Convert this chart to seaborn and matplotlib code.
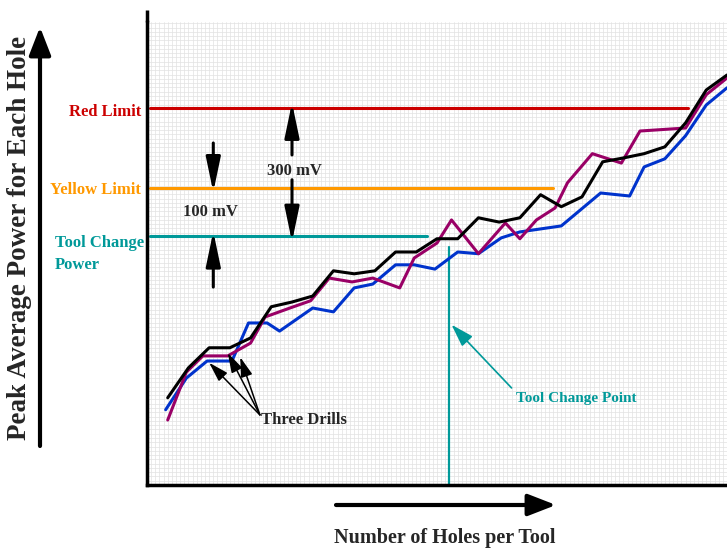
import numpy as np
import pandas as pd
import matplotlib.pyplot as plt
import seaborn as sns
from matplotlib.ticker import MultipleLocator

# Trois forets : puissance moyenne crete (mV) par trou
black_x = list(range(1, 29))
black_y = [204, 274, 321, 321, 344, 417, 428, 442, 501, 494, 501, 545, 545, 576,
           576, 625, 615, 625, 679, 651, 674, 756, 765, 775, 791, 847, 924, 959]

purple_x = [1.0, 1.9, 2.7, 3.9, 5.0, 5.7, 6.9, 7.9, 8.8, 9.9, 10.9, 12.2, 12.9, 14.0,
            14.7, 16.0, 17.3, 18.0, 18.8, 19.7, 20.3, 21.5, 22.9, 23.8, 26.0, 27.0, 28.0]
purple_y = [152, 264, 302, 302, 332, 393, 414, 431, 484, 475, 484, 461, 531, 566,
            620, 541, 613, 576, 620, 648, 707, 775, 753, 828, 835, 913, 952]

blue_x = [0.9, 1.9, 2.9, 4.1, 4.9, 5.8, 6.4, 8.0, 9.0, 10.0, 10.9, 12.0, 12.9, 13.9,
          15.0, 16.0, 17.1, 18.0, 20.0, 21.9, 23.3, 24.0, 25.0, 26.0, 27.0, 28.0]
blue_y = [176, 250, 290, 290, 379, 379, 360, 414, 405, 461, 470, 515, 515, 505,
          545, 541, 578, 592, 606, 683, 676, 744, 763, 817, 889, 929]

# Limites
red_limit = 882
yellow_limit = 695
tool_change_power = 583
tool_change_point = 14.6

sns.set_style("white")
plt.rcParams['font.family'] = ['Liberation Serif', 'DejaVu Serif']
plt.rcParams['font.weight'] = 'bold'

fig = plt.figure(figsize=(7.27, 5.53), dpi=100)
ax = fig.add_axes([147 / 727, 68 / 553, 580 / 727, 463 / 553])

# grille fine
ax.xaxis.set_minor_locator(MultipleLocator(0.2))
ax.yaxis.set_minor_locator(MultipleLocator(10))
ax.set_xticks([])
ax.set_yticks([])
ax.grid(which='minor', color='#e2e2e2', linewidth=0.5)
ax.set_axisbelow(True)
ax.tick_params(which='both', length=0)

# lignes de limite
ax.plot([0.15, 26.1], [red_limit] * 2, color='#cc0000', lw=2.2)
ax.plot([0.15, 19.6], [yellow_limit] * 2, color='#ff9900', lw=2.2)
ax.plot([0.15, 13.5], [tool_change_power] * 2, color='#009999', lw=2.2)
ax.plot([tool_change_point] * 2, [0, 557], color='#009999', lw=1.6)

df_b = pd.DataFrame({'x': black_x, 'y': black_y})
df_p = pd.DataFrame({'x': purple_x, 'y': purple_y})
df_u = pd.DataFrame({'x': blue_x, 'y': blue_y})
sns.lineplot(data=df_u, x='x', y='y', color='#0033cc', lw=2.2, ax=ax, sort=False)
sns.lineplot(data=df_p, x='x', y='y', color='#990066', lw=2.2, ax=ax, sort=False)
sns.lineplot(data=df_b, x='x', y='y', color='black', lw=2.2, ax=ax, sort=False)

ax.set_xlim(0, 28)
ax.set_ylim(0, 1083)
ax.set_xlabel("")
ax.set_ylabel("")

for s in ['top', 'right']:
    ax.spines[s].set_visible(False)
for s in ['left', 'bottom']:
    ax.spines[s].set_linewidth(2.5)
    ax.spines[s].set_color('black')
ax.plot([0, 0], [1, 1.026], transform=ax.transAxes, color='black', lw=2.5,
        clip_on=False, solid_capstyle='butt')

# etiquettes a gauche
ax.text(-0.3, red_limit - 10, "Red Limit", color='#cc0000', ha='right', va='center',
        fontsize=12, clip_on=False)
ax.text(-0.3, yellow_limit - 5, "Yellow Limit", color='#ff9900', ha='right', va='center',
        fontsize=12, clip_on=False)
ax.text(-4.45, tool_change_power + 2, "Tool Change\nPower", color='#009999', ha='left',
        va='top', fontsize=12, linespacing=1.5, clip_on=False)

arrow_kw = dict(arrowstyle='-|>,head_length=1.05,head_width=0.22', color='black', lw=2.2,
                mutation_scale=20, shrinkA=0, shrinkB=0)

# 300 mV
ax.annotate("", xy=(7.0, red_limit + 12), xytext=(7.0, 772), arrowprops=arrow_kw)
ax.annotate("", xy=(7.0, tool_change_power - 14), xytext=(7.0, 714), arrowprops=arrow_kw)
ax.text(7.1, 735, "300 mV", ha='center', va='center', fontsize=12)

# 100 mV
ax.annotate("", xy=(3.2, yellow_limit - 10), xytext=(3.2, 800), arrowprops=arrow_kw)
ax.annotate("", xy=(3.2, tool_change_power + 10), xytext=(3.2, 463), arrowprops=arrow_kw)
ax.text(3.05, 638, "100 mV", ha='center', va='center', fontsize=12)

# Three Drills
thin_kw = dict(arrowstyle='-|>,head_length=0.6,head_width=0.18', color='black', lw=1.1,
               mutation_scale=20, shrinkA=0, shrinkB=0)
for hx, hy in [(3.0, 286), (3.9, 309), (4.5, 299)]:
    ax.annotate("", xy=(hx, hy), xytext=(5.45, 164), arrowprops=thin_kw)
ax.text(5.5, 152, "Three Drills", ha='left', va='center', fontsize=12)

# Tool Change Point
ax.annotate("", xy=(14.7, 375), xytext=(17.6, 227),
            arrowprops=dict(arrowstyle='-|>,head_length=0.7,head_width=0.22',
                            color='#009999', lw=1.2, mutation_scale=20,
                            shrinkA=0, shrinkB=0))
ax.text(17.8, 203, "Tool Change Point", color='#009999', ha='left', va='center',
        fontsize=11)

# titres des axes avec fleches
fig.text(445 / 727, 1 - 538 / 553, "Number of Holes per Tool", ha='center', va='center',
         fontsize=14.5)
fig.text(20 / 727, 1 - 238 / 553, "Peak Average Power for Each Hole", rotation=90,
         ha='center', va='center', fontsize=19.5)
big_kw = dict(arrowstyle='-|>,head_length=0.85,head_width=0.33', color='black', lw=3,
              mutation_scale=20, shrinkA=0, shrinkB=0)
ax.annotate("", xy=(556 / 727, 1 - 505 / 553), xytext=(336 / 727, 1 - 505 / 553),
            xycoords='figure fraction', textcoords='figure fraction', arrowprops=big_kw)
ax.annotate("", xy=(40 / 727, 1 - 27 / 553), xytext=(40 / 727, 1 - 446 / 553),
            xycoords='figure fraction', textcoords='figure fraction', arrowprops=big_kw)

fig.savefig("out.png", dpi=100)
